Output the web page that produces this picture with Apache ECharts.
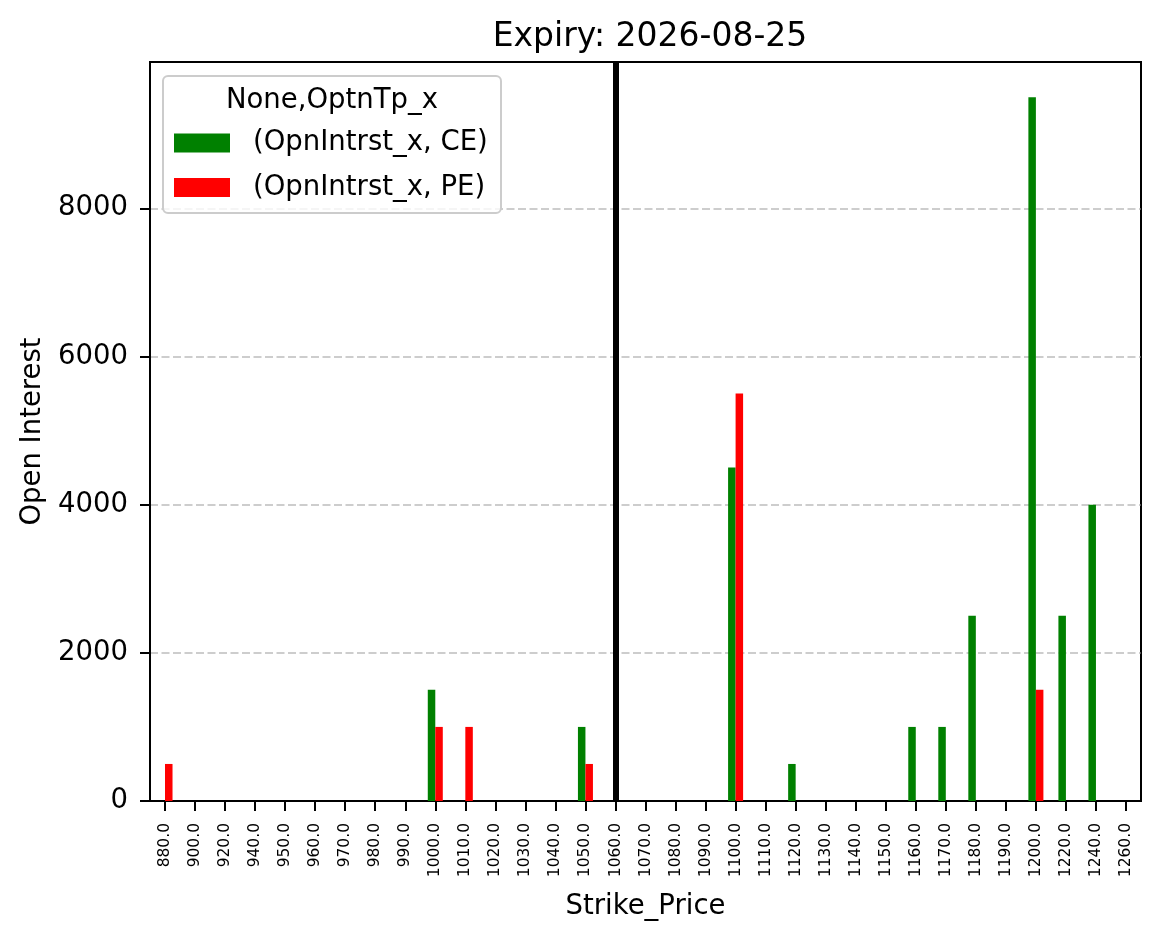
<!DOCTYPE html>
<html>
<head>
<meta charset="utf-8">
<title>Expiry: 2026-08-25</title>
<script src="https://cdn.jsdelivr.net/npm/echarts@6/dist/echarts.min.js"></script>
<style>
  html, body { margin: 0; padding: 0; background: #fff; }
  #chart { width: 1161px; height: 939px; }
</style>
</head>
<body>
<div id="chart"></div>
<script>
// strike prices (x categories)
const strikes = ['880.0', '900.0', '920.0', '940.0', '950.0', '960.0', '970.0', '980.0', '990.0',
  '1000.0', '1010.0', '1020.0', '1030.0', '1040.0', '1050.0', '1060.0', '1070.0', '1080.0',
  '1090.0', '1100.0', '1110.0', '1120.0', '1130.0', '1140.0', '1150.0', '1160.0', '1170.0',
  '1180.0', '1190.0', '1200.0', '1220.0', '1240.0', '1260.0']

// open interest, CE / PE
const ceValues = [0, 0, 0, 0, 0, 0, 0, 0, 0,
  1500, 0, 0, 0, 0, 1000, 0, 0, 0,
  0, 4500, 0, 500, 0, 0, 0, 1000, 1000,
  2500, 0, 9500, 2500, 4000, 0]
const peValues = [500, 0, 0, 0, 0, 0, 0, 0, 0,
  1000, 1000, 0, 0, 0, 500, 0, 0, 0,
  0, 5500, 0, 0, 0, 0, 0, 0, 0,
  0, 0, 1500, 0, 0, 0]

const spotStrike = '1060.0'
const yTicks = [0, 2000, 4000, 6000, 8000]
const yMax = 9975

const FONT = 'DejaVu Sans'

const chart = echarts.init(document.getElementById('chart'))

chart.setOption({
  animation: false,
  backgroundColor: '#fff',
  textStyle: { fontFamily: FONT, color: '#000' },
  title: {
    text: 'Expiry: 2026-08-25',
    left: 645,
    textAlign: 'center',
    top: 16,
    textStyle: { fontFamily: FONT, fontSize: 33, fontWeight: 'normal', color: '#000' }
  },
  grid: {
    left: 150,
    right: 20,
    top: 62,
    bottom: 138,
    show: true,
    borderColor: '#000',
    borderWidth: 2,
    containLabel: false
  },
  legend: {
    orient: 'vertical',
    left: 174,
    top: 129,
    icon: 'rect',
    itemWidth: 56,
    itemHeight: 19,
    itemGap: 16.5,
    padding: 0,
    z: 6,
    textStyle: { fontFamily: FONT, fontSize: 27.5, color: '#000', padding: [0, 0, 0, 18] },
    data: ['(OpnIntrst_x, CE)', '(OpnIntrst_x, PE)']
  },
  graphic: [
    {
      type: 'rect',
      z: 5,
      shape: { x: 163, y: 76, width: 338, height: 137, r: 5 },
      style: { fill: 'rgba(255,255,255,0.8)', stroke: '#cccccc', lineWidth: 2 }
    },
    {
      type: 'text',
      z: 6,
      x: 332,
      y: 101,
      style: {
        text: 'None,OptnTp_x',
        fontFamily: FONT,
        fontSize: 27.5,
        fill: '#000',
        align: 'center',
        verticalAlign: 'middle'
      }
    }
  ],
  xAxis: {
    type: 'category',
    data: strikes,
    name: 'Strike_Price',
    nameLocation: 'middle',
    nameGap: 92,
    nameTextStyle: { fontFamily: FONT, fontSize: 27.5, color: '#000' },
    axisLine: { show: true, lineStyle: { color: '#000', width: 2 } },
    axisTick: { show: true, alignWithLabel: true, length: 10, lineStyle: { color: '#000', width: 2 } },
    axisLabel: {
      rotate: 90,
      interval: 0,
      margin: 22,
      fontFamily: FONT,
      fontSize: 15.5,
      color: '#000'
    },
    splitLine: { show: false }
  },
  yAxis: {
    type: 'value',
    min: 0,
    max: yMax,
    interval: 2000,
    name: 'Open Interest',
    nameLocation: 'middle',
    nameGap: 94,
    nameTextStyle: { fontFamily: FONT, fontSize: 27.5, color: '#000' },
    axisLine: { show: true, lineStyle: { color: '#000', width: 2 } },
    axisTick: { show: true, length: 10, customValues: yTicks, lineStyle: { color: '#000', width: 2 } },
    axisLabel: {
      margin: 22,
      customValues: yTicks,
      formatter: (v) => String(v),
      fontFamily: FONT,
      fontSize: 27.5,
      color: '#000'
    },
    splitLine: {
      show: true,
      lineStyle: { color: 'rgba(160,160,160,0.7)', width: 1.6, type: [8, 3.5] }
    }
  },
  series: [
    {
      name: '(OpnIntrst_x, CE)',
      type: 'bar',
      data: ceValues,
      barWidth: '25%',
      barGap: '0%',
      itemStyle: { color: '#008000' }
    },
    {
      name: '(OpnIntrst_x, PE)',
      type: 'bar',
      data: peValues,
      barWidth: '25%',
      barGap: '0%',
      itemStyle: { color: '#ff0000' }
    },
    {
      // spot strike marker, kept off the bar offsets
      name: 'spot',
      type: 'line',
      data: [],
      markLine: {
        silent: true,
        symbol: 'none',
        label: { show: false },
        lineStyle: { color: '#000', width: 6, type: 'solid' },
        data: [{ xAxis: spotStrike }]
      }
    }
  ]
})

window.addEventListener('resize', () => {
  chart.resize()
})
</script>
</body>
</html>
